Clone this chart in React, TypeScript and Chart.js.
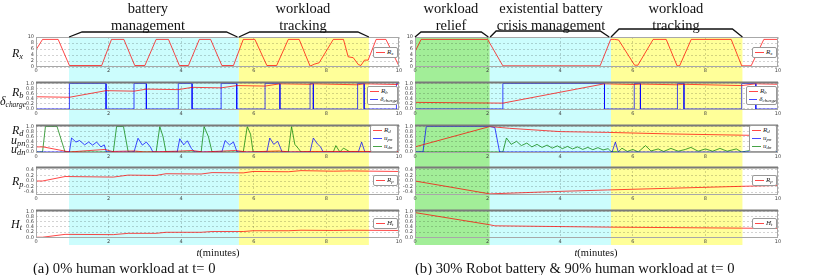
import React, { useEffect, useRef } from "react";
import { Chart, registerables } from "chart.js";
Chart.register(...registerables);

// ---------- data: left panel (a) ----------
const L_RX_T = [0, 0.18, 0.61, 0.92, 1.81, 2.08, 2.42, 2.72, 3.0, 3.31, 3.65, 3.95, 4.2, 4.5, 4.81, 5.12, 5.44, 5.71, 6.03, 6.36, 6.63, 6.95, 7.25, 7.55, 7.68, 7.8, 8.19, 8.47, 8.6, 8.74, 8.88, 8.95, 9.05, 9.15, 9.37, 9.64, 10.0];
const L_RX_V = [5.7, 9.2, 9.2, 0.5, 0.5, 9.2, 9.2, 0.5, 0.5, 9.2, 9.2, 0.5, 0.5, 9.2, 9.2, 0.5, 0.5, 9.2, 9.2, 0.5, 0.5, 9.2, 9.2, 0.3, 1.0, 1.4, 9.2, 9.2, 3.4, 3.1, 0.8, 0.5, 2.3, 2.3, 9.2, 9.2, 0.3];

const L_RB_T = [0, 0.92, 1.93, 2.7, 3.04, 3.92, 4.3, 5.1, 5.53, 6.31, 6.72, 7.55, 7.64, 8.86, 9.04, 9.93, 10];
const L_RB_V = [0.48, 0.46, 0.72, 0.7, 0.78, 0.76, 0.85, 0.83, 0.92, 0.9, 0.99, 0.97, 0.99, 0.95, 0.99, 0.96, 0.97];

const L_DC_T = [0, 0.92, 0.92, 1.93, 1.93, 2.7, 2.7, 3.04, 3.04, 3.92, 3.92, 4.3, 4.3, 5.1, 5.1, 5.53, 5.53, 6.31, 6.31, 6.72, 6.72, 7.55, 7.55, 7.64, 7.64, 8.86, 8.86, 9.04, 9.04, 9.93, 9.93, 10];
const L_DC_V = [0, 0, 1, 1, 0, 0, 1, 1, 0, 0, 1, 1, 0, 0, 1, 1, 0, 0, 1, 1, 0, 0, 1, 1, 0, 0, 1, 1, 0, 0, 1, 1];

const L_RD_T = [0, 0.2, 0.92, 1.9, 2.1, 2.7, 3.0, 3.9, 4.3, 4.6, 5.5, 5.8, 6.7, 7.0, 7.6, 10];
const L_RD_V = [0.2, 0.2, 0.0, 0.1, 0.02, 0.04, 0.0, 0.03, 0.06, 0.0, 0.06, 0.0, 0.04, 0.0, 0.02, 0.02];

const L_UPN_T = [0, 0.92, 0.98, 1.1, 1.2, 1.34, 1.45, 1.56, 1.67, 1.79, 1.88, 1.94, 2.7, 2.81, 2.93, 3.04, 3.15, 3.22, 3.89, 3.96, 4.07, 4.17, 4.28, 4.37, 5.12, 5.21, 5.33, 5.44, 5.54, 6.36, 6.44, 6.55, 6.66, 6.78, 7.55, 7.64, 7.75, 7.84, 7.91, 8.88, 8.97, 9.06, 9.93, 10];
const L_UPN_V = [0, 0, 0.55, 0.39, 0.45, 0.28, 0.39, 0.27, 0.39, 0.2, 0.28, 0, 0, 0.54, 0.27, 0.39, 0.2, 0, 0, 0.52, 0.28, 0.44, 0.14, 0, 0, 0.45, 0.28, 0.39, 0, 0, 0.55, 0.3, 0.42, 0, 0, 0.55, 0.32, 0.2, 0, 0, 0.39, 0, 0, 0.33];

const L_UDN_T = [0, 0.18, 0.26, 0.58, 0.8, 2.13, 2.22, 2.41, 2.54, 3.31, 3.41, 3.5, 3.58, 4.55, 4.63, 4.75, 4.85, 5.71, 5.82, 5.91, 5.98, 6.95, 7.04, 7.13, 7.22, 7.3, 8.19, 8.26, 8.37, 8.47, 8.56, 8.65, 10];
const L_UDN_V = [0, 0, 1, 1, 0, 0, 1, 1, 0, 0, 1, 0.6, 0, 0, 1, 0.6, 0, 0, 1, 0.7, 0, 0, 1, 0.3, 0.15, 0, 0, 0.25, 0, 0.15, 0.08, 0, 0];

const L_RP_T = [0, 0.18, 0.8, 2.13, 2.54, 3.31, 3.58, 4.55, 4.85, 5.71, 5.98, 6.95, 7.3, 8.19, 8.65, 10];
const L_RP_V = [0, 0, 0.16, 0.14, 0.21, 0.2, 0.26, 0.25, 0.3, 0.29, 0.34, 0.33, 0.37, 0.35, 0.36, 0.34];

const L_HT_T = [0, 0.18, 0.8, 2.13, 2.54, 3.31, 3.58, 4.55, 4.85, 5.71, 5.98, 6.95, 7.3, 8.19, 8.65, 10];
const L_HT_V = [0, 0, 0.11, 0.1, 0.15, 0.15, 0.19, 0.19, 0.22, 0.22, 0.25, 0.25, 0.27, 0.26, 0.27, 0.26];

// ---------- data: right panel (b) ----------
const R_RX_T = [0, 0.17, 2.0, 2.42, 5.1, 5.39, 5.5, 5.61, 6.05, 6.14, 6.56, 6.92, 7.22, 7.29, 7.61, 8.71, 9.0, 9.26, 9.61, 10];
const R_RX_V = [5.1, 9.2, 9.2, 0.4, 0.4, 9.2, 9.2, 9.0, 0.6, 0.6, 9.2, 9.2, 0.4, 0.4, 9.2, 9.2, 0.4, 0.4, 9.2, 9.2];

const R_RB_T = [0, 2.42, 5.22, 6.04, 6.21, 7.23, 7.41, 9.0, 9.39, 10];
const R_RB_V = [0.26, 0.23, 0.99, 0.96, 0.98, 0.95, 0.97, 0.92, 0.99, 0.97];

const R_DC_T = [0, 2.42, 2.42, 5.22, 5.22, 6.04, 6.04, 6.21, 6.21, 7.23, 7.23, 7.41, 7.41, 9.0, 9.0, 9.39, 9.39, 10];
const R_DC_V = [0, 0, 1, 1, 0, 0, 1, 1, 0, 0, 1, 1, 0, 0, 1, 1, 0, 0];

const R_RD_T = [0, 2.06, 2.6, 4.0, 5.3, 7.0, 9.0, 10];
const R_RD_V = [0.2, 1.0, 0.93, 0.8, 0.77, 0.71, 0.66, 0.64];

const R_UPN_T = [0, 0.22, 0.31, 2.06, 2.2, 2.33, 5.43, 5.52, 5.6, 9.55, 9.65, 9.75, 10];
const R_UPN_V = [0, 0, 1, 1, 0.96, 0, 0, 0.39, 0, 0, 0.07, 0, 0];

const R_UDN_T = [0, 2.42, 2.52, 2.65, 2.8, 2.93, 3.08, 3.22, 3.36, 3.5, 3.64, 3.78, 3.92, 4.06, 4.2, 4.34, 4.48, 4.62, 4.76, 4.9, 5.04, 5.18, 5.32, 5.4, 5.6, 5.7, 5.85, 6.0, 6.15, 6.35, 6.5, 6.7, 6.85, 7.05, 7.25, 7.45, 7.6, 7.8, 8.0, 8.2, 8.4, 8.6, 8.85, 9.0, 9.2, 9.5, 9.7, 10];
const R_UDN_V = [0, 0, 0.55, 0.3, 0.42, 0.25, 0.35, 0.2, 0.3, 0.18, 0.27, 0.15, 0.24, 0.13, 0.22, 0.12, 0.2, 0.1, 0.18, 0.09, 0.17, 0.08, 0.13, 0.02, 0, 0.15, 0.02, 0.1, 0.0, 0.25, 0.04, 0.12, 0.02, 0.14, 0.03, 0.1, 0.18, 0.03, 0.12, 0.03, 0.14, 0.03, 0.12, 0.0, 0.05, 0.03, 0.08, 0.02];

const R_RP_T = [0, 2.06, 4.0, 5.3, 9.0, 10];
const R_RP_V = [0.0, -0.46, -0.37, -0.32, -0.19, -0.16];

const R_HT_T = [0, 2.06, 2.2, 5.3, 9.0, 10];
const R_HT_V = [0.95, 0.48, 0.44, 0.39, 0.35, 0.34];

// ---------- axes ----------
const X_TICKS = [0, 2, 4, 6, 8, 10];
const RX_TICKS = [0, 2, 4, 6, 8, 10];
const UNIT_TICKS = [0, 0.2, 0.4, 0.6, 0.8, 1.0];
const RP_TICKS = [-0.4, -0.2, 0, 0.2, 0.4];

// region bands (minutes)
const L_BANDS = [
  { from: 0.91, to: 5.59, color: "#ccfdfd" },
  { from: 5.59, to: 9.17, color: "#ffff99" },
];
const R_BANDS = [
  { from: 0, to: 2.06, color: "#a2ee98" },
  { from: 2.06, to: 5.4, color: "#ccfdfd" },
  { from: 5.4, to: 9.02, color: "#ffff99" },
];
const L_BRACKETS = [
  { from: 0.91, to: 5.55, h: 5, a: 13, b: 11 },
  { from: 5.59, to: 9.17, h: 5, a: 11, b: 11 },
];
const R_BRACKETS = [
  { from: 0, to: 2.02, h: 5, a: 6, b: 7 },
  { from: 2.07, to: 5.35, h: 6, a: 6, b: 9 },
  { from: 5.4, to: 9.02, h: 8, a: 8, b: 10 },
];

const RED = "rgba(255,0,0,0.72)";
const BLUE = "rgba(0,0,255,0.72)";
const GREEN = "rgba(0,128,0,0.72)";

const ROW_TOPS = [37, 80, 123, 165, 208];
const PLOT_H = 30;
const BAND_BOTTOM = 245;
const YW = 12;
const SERIF = "'Liberation Serif', 'Times New Roman', serif";

const PANELS = [
  { canvasLeft: 0, canvasWidth: 408, plotLeft: 36, plotRight: 399 },
  { canvasLeft: 395, canvasWidth: 422, plotLeft: 415, plotRight: 778 },
];

const fmt1 = (v: number) => (v < 0 ? "\u2212" + Math.abs(v).toFixed(1) : v.toFixed(1));
const fmt0 = (v: number) => String(v);
const ROW_Y = [
  { min: 0, max: 10, ticks: RX_TICKS, fmt: fmt0 },
  { min: -0.04, max: 1.06, ticks: UNIT_TICKS, fmt: fmt1 },
  { min: -0.04, max: 1.06, ticks: UNIT_TICKS, fmt: fmt1 },
  { min: -0.5, max: 0.5, ticks: RP_TICKS, fmt: fmt1 },
  { min: -0.03, max: 1.05, ticks: UNIT_TICKS, fmt: fmt1 },
];

const decoPlugin = {
  id: "deco",
  beforeDraw(chart: any, _a: any, o: any) {
    const { ctx, chartArea: ca } = chart;
    const x = chart.scales.x;
    const top = o.first ? ca.top : 0;
    const bottom = o.bandBottom;
    ctx.save();
    for (const b of o.bands) {
      const x1 = x.getPixelForValue(b.from);
      const x2 = x.getPixelForValue(b.to);
      ctx.fillStyle = b.color;
      ctx.fillRect(x1, top, x2 - x1, bottom - top);
    }
    ctx.restore();
  },
  afterDraw(chart: any, _a: any, o: any) {
    const { ctx, chartArea: ca } = chart;
    const x = chart.scales.x;
    ctx.save();
    ctx.strokeStyle = "#a8a8a8";
    ctx.lineWidth = 1;
    ctx.strokeRect(ca.left + 0.5, ca.top + 0.5, ca.right - ca.left - 1, ca.bottom - ca.top - 1);
    if (o.darkTop) {
      ctx.strokeStyle = "#7a7a7a";
      ctx.lineWidth = 2;
      ctx.beginPath();
      ctx.moveTo(ca.left, ca.top + 0.5);
      ctx.lineTo(ca.right, ca.top + 0.5);
      ctx.stroke();
    }
    if (o.brackets) {
      ctx.strokeStyle = "#111";
      ctx.lineWidth = 1.3;
      for (const b of o.brackets) {
        const x1 = x.getPixelForValue(b.from);
        const x2 = x.getPixelForValue(b.to);
        const y0 = ca.top;
        const y1 = ca.top - b.h;
        ctx.beginPath();
        ctx.moveTo(x1, y0);
        ctx.lineTo(x1 + b.a, y1);
        ctx.lineTo(x2 - b.b, y1);
        ctx.lineTo(x2, y0);
        ctx.stroke();
      }
    }
    ctx.restore();
  },
};

type Series = { t: number[]; v: number[]; c: string };

function SubPlot({ panel, row, series, bands, brackets }: any) {
  const ref = useRef<HTMLCanvasElement>(null);
  const canvasTop = row === 0 ? 0 : ROW_TOPS[row] - 3;
  const canvasBottom = row < 4 ? ROW_TOPS[row + 1] - 3 : 250;
  const h = canvasBottom - canvasTop;
  const padTop = ROW_TOPS[row] - canvasTop;
  const xAxisH = h - padTop - PLOT_H;
  const yc = ROW_Y[row];
  useEffect(() => {
    const tickFont = { size: 5, family: "'DejaVu Sans', sans-serif" };
    const chart = new Chart(ref.current as HTMLCanvasElement, {
      type: "line",
      data: {
        datasets: (series as Series[]).map((s) => ({
          data: s.t.map((t, i) => ({ x: t, y: s.v[i] })),
          borderColor: s.c,
          borderWidth: 1,
          pointRadius: 0,
          fill: false,
          tension: 0,
        })),
      },
      options: {
        responsive: false,
        animation: false,
        devicePixelRatio: 1,
        events: [],
        layout: {
          padding: {
            left: panel.plotLeft - panel.canvasLeft - YW,
            right: panel.canvasLeft + panel.canvasWidth - panel.plotRight,
            top: padTop,
            bottom: 0,
          },
        },
        plugins: {
          legend: { display: false },
          tooltip: { enabled: false },
          deco: {
            bands,
            brackets: brackets || null,
            first: row === 0,
            darkTop: row > 0,
            bandBottom: row === 4 ? BAND_BOTTOM - canvasTop : h,
          },
        } as any,
        scales: {
          x: {
            type: "linear",
            min: 0,
            max: 10,
            afterBuildTicks: (a: any) => {
              a.ticks = X_TICKS.map((v) => ({ value: v }));
            },
            afterFit: (a: any) => {
              a.height = xAxisH;
            },
            ticks: {
              font: tickFont,
              color: "#444",
              padding: 1,
              maxRotation: 0,
              autoSkip: false,
              callback: (v: any) => String(v),
            },
            grid: { color: "rgba(0,0,0,0.22)", drawTicks: false, lineWidth: 0.8 },
            border: { display: false, dash: [2, 2] },
          },
          y: {
            type: "linear",
            min: yc.min,
            max: yc.max,
            afterBuildTicks: (a: any) => {
              a.ticks = yc.ticks.map((v) => ({ value: v }));
            },
            afterFit: (a: any) => {
              a.width = YW;
            },
            ticks: {
              font: tickFont,
              color: "#444",
              padding: 2,
              autoSkip: false,
              callback: (v: any) => yc.fmt(Number(v)),
            },
            grid: { color: "rgba(0,0,0,0.22)", drawTicks: false, lineWidth: 0.8 },
            border: { display: false, dash: [2, 2] },
          },
        },
      } as any,
      plugins: [decoPlugin as any],
    });
    return () => chart.destroy();
  }, []);
  return (
    <canvas
      ref={ref}
      width={panel.canvasWidth}
      height={h}
      style={{ position: "absolute", left: panel.canvasLeft, top: canvasTop, width: panel.canvasWidth, height: h }}
    />
  );
}

const Sym = ({ b, s, size, sub }: any) => (
  <span style={{ fontStyle: "italic", fontFamily: SERIF, fontSize: size, whiteSpace: "nowrap" }}>
    {b}
    <span style={{ fontSize: sub || "0.7em", position: "relative", top: "0.28em" }}>{s}</span>
  </span>
);

const LEG_W = [25, 31, 28, 25, 25];
const LEGENDS = [
  [{ c: RED, b: "R", s: "x" }],
  [{ c: RED, b: "R", s: "b" }, { c: BLUE, b: "\u03b4", s: "charge" }],
  [{ c: RED, b: "R", s: "d" }, { c: BLUE, b: "u", s: "pn" }, { c: GREEN, b: "u", s: "dn" }],
  [{ c: RED, b: "R", s: "p" }],
  [{ c: RED, b: "H", s: "t" }],
];

function LegendBox({ panel, row }: any) {
  const items = LEGENDS[row];
  const h = items.length * 8 + 3;
  const w = LEG_W[row];
  const top = ROW_TOPS[row] + PLOT_H / 2 - h / 2;
  return (
    <div
      style={{
        position: "absolute",
        left: panel.plotRight - 1 - w,
        top,
        width: w,
        height: h,
        boxSizing: "border-box",
        background: "#fff",
        border: "1px solid #999",
        borderRadius: 2,
        paddingTop: 1,
        color: "#222",
      }}
    >
      {items.map((it: any, i: number) => (
        <div key={i} style={{ display: "flex", alignItems: "center", height: 8, lineHeight: "8px" }}>
          <span style={{ display: "inline-block", width: 9, height: 1.2, background: it.c, margin: "0 2px 0 2px" }} />
          <Sym b={it.b} s={it.s} size={7} />
        </div>
      ))}
    </div>
  );
}

const Y_LABELS = [
  { x: 12, y: 46, b: "R", s: "x" },
  { x: 12, y: 85, b: "R", s: "b" },
  { x: 0, y: 94, b: "\u03b4", s: "charge", sub: "0.62em" },
  { x: 12, y: 123, b: "R", s: "d" },
  { x: 11, y: 133, b: "u", s: "pn" },
  { x: 11, y: 142, b: "u", s: "dn" },
  { x: 12, y: 174, b: "R", s: "p" },
  { x: 11, y: 217, b: "H", s: "t" },
];

const ANNOTS = [
  { cx: 148, lines: ["battery", "management"] },
  { cx: 303, lines: ["workload", "tracking"] },
  { cx: 451, lines: ["workload", "relief"] },
  { cx: 551, lines: ["existential battery", "crisis management"] },
  { cx: 676, lines: ["workload", "tracking"] },
];

const PANEL_ROWS = [
  [
    [{ t: L_RX_T, v: L_RX_V, c: RED }],
    [{ t: L_RB_T, v: L_RB_V, c: RED }, { t: L_DC_T, v: L_DC_V, c: BLUE }],
    [{ t: L_RD_T, v: L_RD_V, c: RED }, { t: L_UPN_T, v: L_UPN_V, c: BLUE }, { t: L_UDN_T, v: L_UDN_V, c: GREEN }],
    [{ t: L_RP_T, v: L_RP_V, c: RED }],
    [{ t: L_HT_T, v: L_HT_V, c: RED }],
  ],
  [
    [{ t: R_RX_T, v: R_RX_V, c: RED }],
    [{ t: R_RB_T, v: R_RB_V, c: RED }, { t: R_DC_T, v: R_DC_V, c: BLUE }],
    [{ t: R_RD_T, v: R_RD_V, c: RED }, { t: R_UPN_T, v: R_UPN_V, c: BLUE }, { t: R_UDN_T, v: R_UDN_V, c: GREEN }],
    [{ t: R_RP_T, v: R_RP_V, c: RED }],
    [{ t: R_HT_T, v: R_HT_V, c: RED }],
  ],
];
const PANEL_BANDS = [L_BANDS, R_BANDS];
const PANEL_BRACKETS = [L_BRACKETS, R_BRACKETS];
const CAPTIONS = [
  { x: 33, text: "(a) 0% human workload at t= 0" },
  { x: 415, text: "(b) 30% Robot battery & 90% human workload at t= 0" },
];
const XLABEL_CX = [218, 596];

export default function App() {
  return (
    <div style={{ position: "fixed", left: 0, top: 0, width: 817, height: 275, background: "#fff", overflow: "hidden" }}>
      {PANELS.map((p, pi) =>
        PANEL_ROWS[pi].map((series, r) => (
          <SubPlot
            key={pi + "-" + r}
            panel={p}
            row={r}
            series={series}
            bands={PANEL_BANDS[pi]}
            brackets={r === 0 ? PANEL_BRACKETS[pi] : null}
          />
        ))
      )}
      {PANELS.map((p, pi) => LEGENDS.map((_, r) => <LegendBox key={"l" + pi + r} panel={p} row={r} />))}
      {Y_LABELS.map((l, i) => (
        <div key={"y" + i} style={{ position: "absolute", left: l.x, top: l.y, lineHeight: "12px", color: "#111" }}>
          <Sym b={l.b} s={l.s} size={12} sub={l.sub} />
        </div>
      ))}
      {ANNOTS.map((a, i) => (
        <div
          key={"a" + i}
          style={{
            position: "absolute",
            left: a.cx - 100,
            width: 200,
            top: 0,
            textAlign: "center",
            fontFamily: SERIF,
            fontSize: 14.5,
            lineHeight: "17px",
            color: "#111",
          }}
        >
          {a.lines.map((ln, j) => (
            <div key={j}>{ln}</div>
          ))}
        </div>
      ))}
      {XLABEL_CX.map((cx, i) => (
        <div
          key={"x" + i}
          style={{
            position: "absolute",
            left: cx - 40,
            width: 80,
            top: 246,
            textAlign: "center",
            fontFamily: SERIF,
            fontSize: 10.5,
            lineHeight: "13px",
            color: "#111",
          }}
        >
          <i>t</i>(minutes)
        </div>
      ))}
      {CAPTIONS.map((c, i) => (
        <div
          key={"c" + i}
          style={{
            position: "absolute",
            left: c.x,
            top: 260,
            fontFamily: SERIF,
            fontSize: 14.6,
            lineHeight: "16px",
            whiteSpace: "nowrap",
            color: "#111",
          }}
        >
          {c.text}
        </div>
      ))}
    </div>
  );
}
